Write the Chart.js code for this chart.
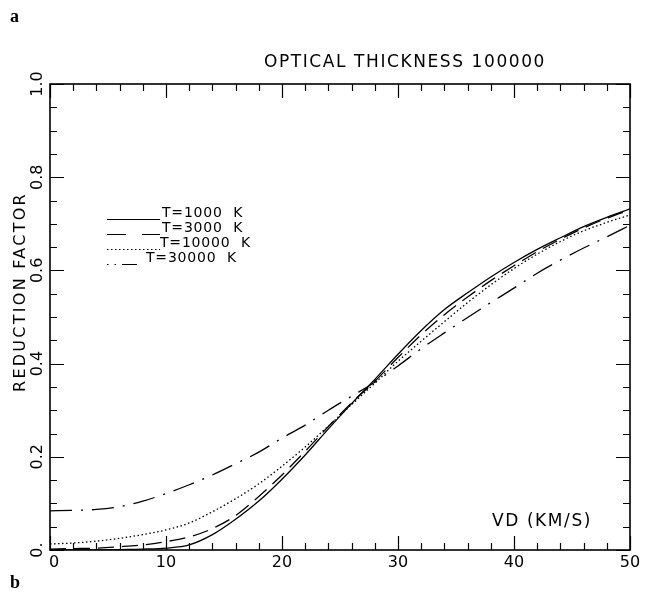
<!DOCTYPE html>
<html>
<head>
<meta charset="utf-8">
<script src="https://cdn.jsdelivr.net/npm/chart.js@4.4.1/dist/chart.umd.min.js"></script>
<style>
  body { margin: 0; background: #fff; }
  #wrap { position: relative; width: 651px; height: 597px; }
</style>
</head>
<body>
<div id="wrap"><canvas id="chart" width="651" height="597"></canvas></div>
<script>
// VD (km/s) sample points
const vd = [0, 2, 4, 6, 8, 10, 12, 14, 16, 18, 20, 22, 24, 26, 28, 30, 32, 34, 36, 38, 40, 42, 44, 46, 48, 50];

// reduction factor
const t1000  = [0.000, 0.000, 0.000, 0.001, 0.002, 0.004, 0.011, 0.033, 0.066, 0.105, 0.152, 0.204, 0.260, 0.314, 0.366, 0.420, 0.471, 0.516, 0.552, 0.586, 0.617, 0.645, 0.670, 0.694, 0.714, 0.732];
const t3000  = [0.002, 0.003, 0.004, 0.007, 0.011, 0.018, 0.028, 0.046, 0.074, 0.115, 0.161, 0.212, 0.265, 0.316, 0.362, 0.413, 0.462, 0.505, 0.543, 0.578, 0.610, 0.640, 0.667, 0.691, 0.712, 0.730];
const t10000 = [0.013, 0.015, 0.019, 0.025, 0.033, 0.043, 0.058, 0.082, 0.110, 0.142, 0.180, 0.221, 0.266, 0.312, 0.358, 0.405, 0.448, 0.490, 0.531, 0.569, 0.604, 0.635, 0.662, 0.685, 0.703, 0.719];
const t30000 = [0.084, 0.085, 0.087, 0.093, 0.105, 0.121, 0.140, 0.161, 0.185, 0.210, 0.240, 0.268, 0.300, 0.330, 0.360, 0.395, 0.432, 0.466, 0.499, 0.531, 0.562, 0.594, 0.622, 0.648, 0.672, 0.697];

const seriesNames = ['T=1000  K', 'T=3000  K', 'T=10000  K', 'T=30000  K'];
const xTickLabels = ['0', '10', '20', '30', '40', '50'];
const yTickLabels = ['0.', '0.2', '0.4', '0.6', '0.8', '1.0'];

const FONT = '"DejaVu Sans", sans-serif';

function pts(arr) {
    return arr.map(function(y, i) { return { x: vd[i], y: y }; });
}

function spacedText(ctx, text, x, y, width, align) {
    ctx.letterSpacing = '0px';
    const w = ctx.measureText(text).width;
    const ls = (width - w) / text.length;
    ctx.letterSpacing = ls + 'px';
    ctx.textAlign = 'left';
    let x0 = x;
    if (align === 'center') x0 = x - width / 2;
    ctx.fillText(text, x0, y);
    ctx.letterSpacing = '0px';
}

const framePlugin = {
    id: 'frame',
    afterDraw: function(chart) {
        const ctx = chart.ctx;
        const a = chart.chartArea;
        const xs = chart.scales.x;
        const ys = chart.scales.y;
        ctx.save();
        ctx.strokeStyle = '#000';
        ctx.fillStyle = '#000';

        // frame
        ctx.lineWidth = 1.6;
        ctx.strokeRect(a.left, a.top, a.right - a.left, a.bottom - a.top);

        // inward ticks
        ctx.lineWidth = 1.2;
        ctx.beginPath();
        for (let v = 0; v <= 50; v += 2) {
            const px = Math.round(xs.getPixelForValue(v)) + 0.5;
            const len = v % 10 === 0 ? 14 : 7;
            ctx.moveTo(px, a.bottom); ctx.lineTo(px, a.bottom - len);
            ctx.moveTo(px, a.top); ctx.lineTo(px, a.top + len);
        }
        for (let i = 0; i <= 20; i++) {
            const py = Math.round(ys.getPixelForValue(i * 0.05)) + 0.5;
            const len = i % 4 === 0 ? 14 : 7;
            ctx.moveTo(a.left, py); ctx.lineTo(a.left + len, py);
            ctx.moveTo(a.right, py); ctx.lineTo(a.right - len, py);
        }
        ctx.stroke();

        // x tick labels
        ctx.font = '16px ' + FONT;
        ctx.textAlign = 'center';
        ctx.textBaseline = 'middle';
        xTickLabels.forEach(function(lab, i) {
            const px = xs.getPixelForValue(i * 10) + (i === 0 ? 4 : 0);
            ctx.fillText(lab, px, 563);
        });

        // y tick labels (rotated)
        yTickLabels.forEach(function(lab, i) {
            const py = ys.getPixelForValue(i * 0.2);
            ctx.save();
            ctx.translate(38, py);
            ctx.rotate(-Math.PI / 2);
            ctx.textAlign = 'center';
            ctx.fillText(lab, 0, 0);
            ctx.restore();
        });

        // titles
        ctx.font = '17px ' + FONT;
        ctx.textBaseline = 'middle';
        spacedText(ctx, 'OPTICAL THICKNESS 100000', 264, 63, 282);
        spacedText(ctx, 'VD (KM/S)', 492, 522, 100);

        ctx.save();
        ctx.translate(21, 292);
        ctx.rotate(-Math.PI / 2);
        ctx.font = '16px ' + FONT;
        spacedText(ctx, 'REDUCTION FACTOR', 0, 0, 200, 'center');
        ctx.restore();

        // legend
        const rows = [213, 228, 243, 258];
        const samples = [[], [19, 16], [1.5, 2.5], [1.5, 6, 1.5, 6, 15, 100]];
        const textX = [162, 162, 160, 146];
        ctx.font = '14px ' + FONT;
        ctx.textAlign = 'left';
        ctx.lineWidth = 1.2;
        chart.data.datasets.forEach(function(ds, i) {
            const ly = rows[i] + 6.5;
            ctx.setLineDash(samples[i]);
            ctx.beginPath();
            ctx.moveTo(107, ly);
            ctx.lineTo(i === 3 ? 139 : 160, ly);
            ctx.stroke();
            ctx.setLineDash([]);
            ctx.letterSpacing = '0.8px';
            ctx.fillText(ds.label, textX[i], rows[i]);
            ctx.letterSpacing = '0px';
        });

        // panel letters
        ctx.font = 'bold 18px "Liberation Serif", serif';
        ctx.textAlign = 'left';
        ctx.textBaseline = 'alphabetic';
        ctx.fillText('a', 10, 22);
        ctx.fillText('b', 10, 588);
        ctx.restore();
    }
};

const common = {
    borderColor: '#000',
    borderWidth: 1.3,
    pointRadius: 0,
    fill: false,
    tension: 0.4,
    cubicInterpolationMode: 'monotone'
};

new Chart(document.getElementById('chart'), {
    type: 'line',
    data: {
        datasets: [
            Object.assign({ label: seriesNames[0], data: pts(t1000), borderDash: [] }, common),
            Object.assign({ label: seriesNames[1], data: pts(t3000), borderDash: [16, 8] }, common),
            Object.assign({ label: seriesNames[2], data: pts(t10000), borderDash: [1.5, 2.5], borderWidth: 1.1 }, common),
            Object.assign({ label: seriesNames[3], data: pts(t30000), borderDash: [22, 9, 2, 9] }, common)
        ]
    },
    options: {
        responsive: false,
        animation: false,
        devicePixelRatio: 1,
        layout: { padding: { left: 50, top: 84, right: 21, bottom: 47 } },
        scales: {
            x: { type: 'linear', min: 0, max: 50, display: false },
            y: { type: 'linear', min: 0, max: 1, display: false }
        },
        plugins: {
            legend: { display: false },
            tooltip: { enabled: false }
        }
    },
    plugins: [framePlugin]
});
</script>
</body>
</html>
